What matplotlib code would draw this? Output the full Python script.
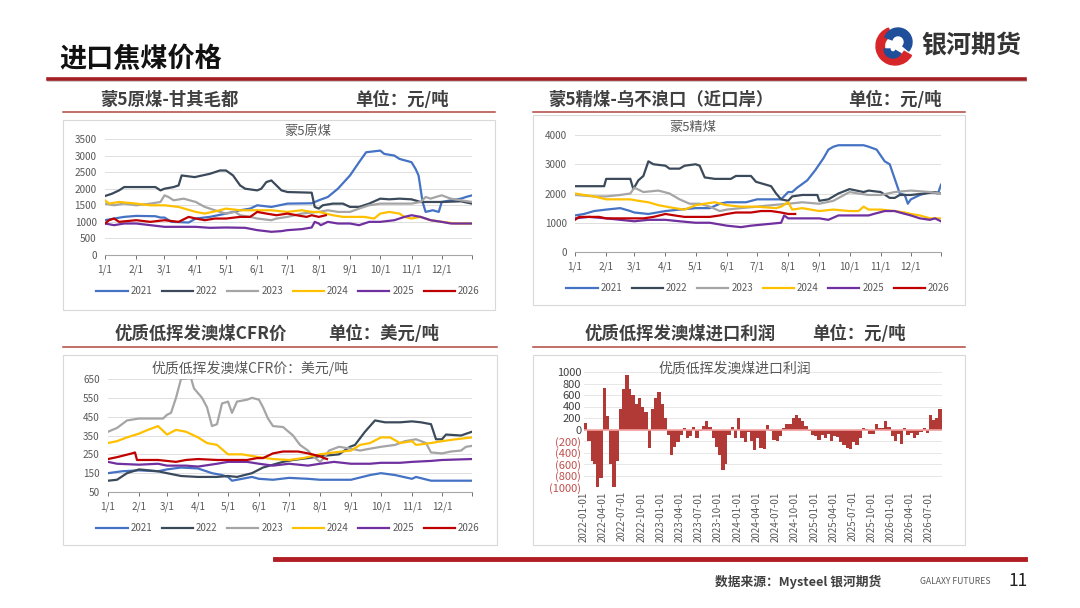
import matplotlib

matplotlib.use("Agg")

import matplotlib.dates as mdates
import matplotlib.pyplot as plt
import numpy as np
import pandas as pd
from matplotlib.lines import Line2D
from matplotlib.patches import Rectangle, Wedge

plt.rcParams["font.family"] = ["Noto Sans CJK SC", "DejaVu Sans"]

W, H = 1080, 608

YEARS = ["2021", "2022", "2023", "2024", "2025", "2026"]
YEAR_COLORS = ["#4472C4", "#3B4A5A", "#A5A5A5", "#FFC000", "#7030A0", "#C00000"]
MONTH_LABELS = ["1/1", "2/1", "3/1", "4/1", "5/1", "6/1", "7/1", "8/1", "9/1", "10/1", "11/1", "12/1"]

# 蒙5原煤-甘其毛都 (元/吨)
raw_2021 = [("1/1", 1050), ("1/10", 1100), ("1/20", 1150), ("2/1", 1180), ("2/20", 1170), ("2/25", 1130),
            ("3/1", 1130), ("3/8", 1000), ("3/25", 980), ("4/1", 1100), ("4/15", 1150), ("5/1", 1250),
            ("5/15", 1350), ("5/25", 1400), ("6/1", 1500), ("6/15", 1450), ("7/1", 1550), ("7/25", 1560),
            ("8/1", 1650), ("8/10", 1750), ("8/20", 2000), ("9/1", 2400), ("9/10", 2800), ("9/17", 3100),
            ("10/1", 3150), ("10/5", 3050), ("10/15", 3000), ("10/20", 2900), ("11/1", 2800), ("11/5", 2600),
            ("11/8", 2400), ("11/12", 1600), ("11/15", 1300), ("11/22", 1350), ("11/28", 1300), ("12/1", 1600),
            ("12/10", 1650), ("12/20", 1700), ("12/25", 1750), ("12/31", 1800)]
raw_2022 = [("1/1", 1780), ("1/8", 1850), ("1/15", 1950), ("1/20", 2050), ("2/20", 2050), ("2/25", 1950),
            ("3/1", 2000), ("3/10", 2050), ("3/15", 2100), ("3/18", 2400), ("3/31", 2350), ("4/15", 2450),
            ("4/25", 2550), ("5/1", 2550), ("5/8", 2400), ("5/15", 2100), ("5/20", 2000), ("6/1", 1950),
            ("6/5", 2000), ("6/10", 2200), ("6/15", 2250), ("6/20", 2100), ("6/25", 1950), ("7/1", 1900),
            ("7/25", 1880), ("7/28", 1450), ("8/1", 1400), ("8/5", 1500), ("8/15", 1550), ("8/25", 1550),
            ("9/1", 1450), ("9/10", 1450), ("9/20", 1550), ("10/1", 1700), ("10/10", 1680), ("10/20", 1700),
            ("11/1", 1680), ("11/10", 1600), ("12/1", 1600), ("12/20", 1620), ("12/31", 1550)]
raw_2023 = [("1/1", 1550), ("1/10", 1500), ("1/20", 1550), ("2/1", 1500), ("2/15", 1550), ("2/25", 1600),
            ("3/1", 1800), ("3/5", 1750), ("3/10", 1650), ("3/20", 1700), ("4/1", 1600), ("4/10", 1450),
            ("4/15", 1400), ("4/25", 1300), ("5/1", 1250), ("5/10", 1300), ("5/15", 1200), ("5/25", 1150),
            ("6/1", 1100), ("6/15", 1050), ("6/20", 1100), ("7/1", 1150), ("7/15", 1250), ("8/1", 1300),
            ("8/10", 1350), ("8/20", 1300), ("9/1", 1300), ("9/10", 1400), ("9/20", 1500), ("10/1", 1550),
            ("10/15", 1550), ("11/1", 1550), ("11/10", 1600), ("11/15", 1750), ("11/20", 1700), ("11/25", 1750),
            ("12/1", 1800), ("12/10", 1700), ("12/20", 1650), ("12/31", 1600)]
raw_2024 = [("1/1", 1650), ("1/5", 1550), ("1/15", 1600), ("2/1", 1550), ("2/15", 1500), ("3/1", 1500),
            ("3/15", 1450), ("4/1", 1300), ("4/10", 1250), ("4/25", 1350), ("5/1", 1400), ("5/15", 1350),
            ("6/1", 1350), ("6/15", 1350), ("7/1", 1300), ("7/15", 1350), ("7/25", 1300), ("8/1", 1300),
            ("8/15", 1200), ("8/25", 1150), ("9/15", 1150), ("9/25", 1100), ("10/1", 1250), ("10/10", 1300),
            ("10/20", 1250), ("10/25", 1150), ("11/1", 1100), ("11/10", 1150), ("11/20", 1050), ("12/1", 1000),
            ("12/15", 950), ("12/31", 950)]
raw_2025 = [("1/1", 950), ("1/10", 900), ("1/20", 950), ("2/1", 950), ("2/15", 900), ("3/1", 850),
            ("3/15", 850), ("4/1", 850), ("4/15", 820), ("5/1", 830), ("5/20", 820), ("6/1", 750),
            ("6/15", 700), ("6/25", 720), ("7/1", 750), ("7/15", 780), ("7/25", 830), ("7/28", 1000),
            ("8/1", 950), ("8/3", 900), ("8/10", 1000), ("8/20", 950), ("9/1", 950), ("9/10", 900),
            ("9/20", 1000), ("10/1", 1000), ("10/15", 1050), ("10/25", 1150), ("11/1", 1200), ("11/10", 1150),
            ("11/20", 1050), ("12/1", 1000), ("12/10", 950), ("12/31", 950)]
raw_2026 = [("1/1", 950), ("1/5", 1050), ("1/10", 1100), ("1/15", 1000), ("2/1", 1050), ("2/15", 1000),
            ("3/1", 1050), ("3/15", 1000), ("3/25", 1150), ("4/1", 1100), ("4/10", 1050), ("4/20", 1100),
            ("5/1", 1100), ("5/15", 1150), ("5/25", 1150), ("6/1", 1300), ("6/10", 1250), ("6/20", 1200),
            ("7/1", 1250), ("7/10", 1200), ("7/20", 1150), ("7/25", 1200), ("8/1", 1150), ("8/8", 1200)]

# 蒙5精煤-乌不浪口 (元/吨)
wash_2021 = [("1/1", 1250), ("1/10", 1300), ("1/20", 1400), ("2/1", 1450), ("2/15", 1500), ("2/25", 1400),
             ("3/1", 1350), ("3/15", 1300), ("4/1", 1400), ("4/15", 1450), ("5/1", 1500), ("5/15", 1500),
             ("5/25", 1650), ("6/1", 1700), ("6/20", 1700), ("7/1", 1800), ("7/25", 1800), ("8/1", 2050),
             ("8/5", 2050), ("8/10", 2200), ("8/20", 2450), ("8/28", 2800), ("9/5", 3200), ("9/10", 3500),
             ("9/15", 3600), ("9/20", 3650), ("10/15", 3650), ("10/20", 3600), ("10/28", 3500), ("11/5", 3100),
             ("11/10", 3000), ("11/15", 2500), ("11/20", 2000), ("11/25", 1950), ("11/28", 1650), ("12/1", 1800),
             ("12/10", 1950), ("12/20", 2050), ("12/28", 2000), ("12/31", 2300)]
wash_2022 = [("1/1", 2250), ("1/30", 2250), ("2/1", 2500), ("2/25", 2500), ("2/28", 2150), ("3/5", 2450),
             ("3/10", 2600), ("3/15", 3100), ("3/20", 3000), ("4/1", 2950), ("4/5", 2850), ("4/15", 2850),
             ("4/20", 2950), ("5/1", 3000), ("5/5", 2950), ("5/10", 2550), ("5/20", 2500), ("6/5", 2500),
             ("6/10", 2600), ("6/25", 2600), ("6/30", 2400), ("7/5", 2350), ("7/15", 2250), ("7/20", 2000),
             ("7/25", 1800), ("8/1", 1750), ("8/5", 1900), ("8/15", 1950), ("8/30", 1950), ("9/1", 1750),
             ("9/10", 1800), ("9/20", 2000), ("10/1", 2150), ("10/15", 2050), ("10/20", 2100), ("11/1", 2050),
             ("11/10", 1850), ("11/15", 1850), ("11/20", 1950), ("12/1", 1950), ("12/15", 2000), ("12/25", 2050),
             ("12/31", 2000)]
wash_2023 = [("1/1", 1950), ("1/20", 1900), ("2/1", 1900), ("2/15", 1950), ("2/25", 2000), ("3/1", 2200),
             ("3/10", 2050), ("3/25", 2100), ("4/5", 2000), ("4/15", 1800), ("4/25", 1650), ("5/5", 1650),
             ("5/15", 1550), ("5/25", 1400), ("6/1", 1450), ("6/15", 1500), ("7/1", 1550), ("7/15", 1600),
             ("8/1", 1650), ("8/15", 1700), ("9/1", 1650), ("9/15", 1750), ("10/1", 2050), ("10/10", 2000),
             ("10/20", 1950), ("11/1", 1950), ("11/15", 2050), ("12/1", 2100), ("12/20", 2050), ("12/31", 2000)]
wash_2024 = [("1/1", 2000), ("1/10", 1950), ("1/20", 1900), ("2/1", 1800), ("2/25", 1800), ("3/5", 1750),
             ("3/15", 1700), ("3/25", 1600), ("4/10", 1500), ("4/20", 1450), ("5/1", 1600), ("5/10", 1650),
             ("5/20", 1700), ("6/1", 1600), ("6/15", 1550), ("7/1", 1550), ("7/20", 1500), ("7/25", 1550),
             ("8/1", 1700), ("8/5", 1450), ("8/15", 1500), ("9/1", 1400), ("9/15", 1450), ("10/1", 1400),
             ("10/10", 1400), ("10/15", 1550), ("10/20", 1450), ("11/1", 1450), ("11/15", 1400), ("11/25", 1350),
             ("12/1", 1300), ("12/10", 1250), ("12/20", 1150), ("12/31", 1150)]
wash_2025 = [("1/1", 1150), ("1/15", 1200), ("2/1", 1150), ("2/15", 1100), ("3/1", 1050), ("3/15", 1100),
             ("4/1", 1100), ("4/15", 1050), ("5/1", 1000), ("5/15", 1000), ("6/1", 900), ("6/15", 850),
             ("6/25", 900), ("7/10", 950), ("7/25", 1000), ("7/28", 1250), ("8/1", 1150), ("8/15", 1150),
             ("9/1", 1150), ("9/10", 1100), ("9/20", 1250), ("10/5", 1250), ("10/20", 1250), ("10/25", 1300),
             ("11/5", 1400), ("11/15", 1400), ("11/20", 1350), ("12/1", 1250), ("12/10", 1150), ("12/20", 1100),
             ("12/25", 1150), ("12/31", 1050)]
wash_2026 = [("1/1", 1100), ("1/5", 1200), ("1/25", 1200), ("2/1", 1150), ("2/25", 1150), ("3/10", 1150),
             ("3/20", 1200), ("4/1", 1300), ("4/10", 1250), ("4/20", 1200), ("5/15", 1200), ("5/25", 1250),
             ("6/1", 1300), ("6/10", 1350), ("6/25", 1350), ("7/5", 1400), ("7/15", 1400), ("7/25", 1350),
             ("8/1", 1300), ("8/8", 1300)]

# 优质低挥发澳煤CFR价 (美元/吨)
cfr_2021 = [("1/1", 150), ("1/15", 160), ("2/1", 165), ("2/20", 160), ("3/1", 170), ("3/15", 180),
            ("4/1", 175), ("4/15", 150), ("4/25", 140), ("5/1", 130), ("5/5", 110), ("5/15", 120),
            ("5/25", 130), ("6/1", 120), ("6/15", 115), ("7/1", 125), ("7/20", 120), ("8/1", 115),
            ("9/1", 115), ("9/20", 140), ("10/1", 150), ("10/15", 140), ("11/1", 120), ("11/5", 130),
            ("11/20", 110), ("12/31", 110)]
cfr_2022 = [("1/1", 110), ("1/10", 115), ("1/20", 150), ("2/1", 170), ("2/20", 160), ("3/1", 150),
            ("3/15", 135), ("4/1", 130), ("4/20", 130), ("5/1", 135), ("5/10", 130), ("5/25", 150),
            ("6/5", 180), ("6/25", 210), ("7/5", 220), ("7/20", 230), ("8/1", 240), ("8/20", 250),
            ("8/31", 290), ("9/5", 300), ("9/15", 370), ("9/25", 430), ("10/5", 420), ("10/20", 420),
            ("11/1", 425), ("11/10", 420), ("11/20", 410), ("11/25", 330), ("12/1", 330), ("12/5", 355),
            ("12/20", 350), ("12/31", 370)]
cfr_2023 = [("1/1", 370), ("1/10", 390), ("1/20", 430), ("2/1", 440), ("2/25", 440), ("3/1", 460),
            ("3/5", 470), ("3/10", 550), ("3/15", 650), ("3/25", 655), ("3/28", 600), ("4/5", 550),
            ("4/10", 500), ("4/15", 400), ("4/20", 410), ("4/25", 520), ("5/1", 530), ("5/5", 470),
            ("5/10", 530), ("5/20", 540), ("5/25", 550), ("6/1", 540), ("6/5", 500), ("6/10", 440),
            ("6/15", 400), ("6/25", 395), ("7/5", 350), ("7/12", 300), ("7/20", 270), ("7/25", 240),
            ("8/1", 210), ("8/5", 230), ("8/10", 270), ("8/20", 290), ("9/1", 280), ("9/10", 270),
            ("9/20", 280), ("10/1", 290), ("10/15", 300), ("10/25", 320), ("11/5", 330), ("11/15", 310),
            ("11/20", 260), ("12/1", 255), ("12/10", 265), ("12/20", 270), ("12/25", 290), ("12/31", 295)]
cfr_2024 = [("1/1", 310), ("1/10", 320), ("1/20", 340), ("2/1", 360), ("2/10", 380), ("2/20", 400),
            ("3/1", 355), ("3/10", 380), ("3/20", 370), ("4/1", 340), ("4/10", 310), ("4/20", 300),
            ("5/1", 250), ("5/15", 250), ("6/1", 235), ("6/15", 225), ("7/1", 220), ("7/15", 230),
            ("8/1", 250), ("8/15", 260), ("9/1", 270), ("9/10", 300), ("9/20", 310), ("10/1", 340),
            ("10/10", 340), ("10/20", 310), ("11/1", 320), ("11/5", 300), ("11/20", 310), ("12/1", 320),
            ("12/15", 330), ("12/31", 340)]
cfr_2025 = [("1/1", 210), ("1/10", 200), ("2/1", 195), ("2/20", 200), ("3/1", 190), ("3/20", 190),
            ("4/1", 185), ("4/20", 200), ("5/1", 210), ("5/20", 210), ("6/1", 200), ("6/15", 190),
            ("7/1", 200), ("7/20", 190), ("8/1", 200), ("8/15", 210), ("9/1", 200), ("9/20", 200),
            ("10/1", 205), ("10/20", 205), ("11/1", 210), ("11/20", 215), ("12/1", 220), ("12/31", 225)]
cfr_2026 = [("1/1", 225), ("1/10", 235), ("1/25", 255), ("1/28", 260), ("1/30", 220), ("2/20", 220),
            ("3/1", 215), ("3/10", 210), ("3/20", 220), ("4/1", 225), ("4/20", 220), ("5/1", 220),
            ("5/20", 220), ("5/30", 230), ("6/5", 230), ("6/15", 255), ("6/25", 265), ("7/10", 265),
            ("7/20", 255), ("7/28", 245), ("8/1", 240), ("8/5", 230), ("8/8", 225)]

# 优质低挥发澳煤进口利润 (元/吨), half-monthly from 2022-01-01
profit = [120, -200, -550, -600, -1000, -850, 720, 240, -600, -1000, -550, 350, 700, 950, 700, 600,
          450, 550, 400, 300, -320, 350, 550, 650, 450, 200, -100, -450, -300, -220, -100, 30,
          -150, -120, 40, -150, -30, 60, 140, 50, -150, -300, -450, -700, -600, -100, 50, -150,
          200, -150, -220, -50, -200, -350, -150, -330, -340, 80, -30, -180, -200, -120, 30, 100,
          100, 200, 250, 200, 150, 60, -20, -100, -120, -180, -100, -150, -70, -200, -120, -130,
          -220, -270, -320, -340, -220, -270, -150, 30, 10, -70, -80, 90, 20, 30, 150, 50,
          -120, -200, -80, -260, 20, -100, -60, -140, -90, -40, 20, -60, 250, 170, 200, 350]


def px_rect(x0, y0, x1, y1):
    return [x0 / W, 1 - y1 / H, (x1 - x0) / W, (y1 - y0) / H]


def fig_text(fig, x, y, s, **kw):
    fig.text(x / W, 1 - y / H, s, **kw)


def fig_hline(fig, x0, x1, y, color, lw):
    fig.add_artist(Line2D([x0 / W, x1 / W], [1 - y / H, 1 - y / H], transform=fig.transFigure, color=color, lw=lw))


def fig_box(fig, x0, y0, x1, y1):
    fig.add_artist(Rectangle((x0 / W, 1 - y1 / H), (x1 - x0) / W, (y1 - y0) / H, transform=fig.transFigure,
                             facecolor="white", edgecolor="#D9D9D9", lw=0.8, zorder=0))


def day_of_year(md):
    return pd.Timestamp(f"2021/{md}").dayofyear - 1


def seasonal_chart(fig, rect, series, ylim, yticks, title, title_xy, title_size, legend_xy):
    ax = fig.add_axes(px_rect(*rect))
    for name, pts, color in zip(YEARS, series, YEAR_COLORS):
        ax.plot([day_of_year(d) for d, _ in pts], [v for _, v in pts], color=color, lw=1.6, label=name)
    ax.set_xlim(0, 364)
    ax.set_ylim(*ylim)
    ax.set_yticks(yticks)
    month_days = [day_of_year(m) for m in MONTH_LABELS] + [364]
    ax.set_xticks(month_days)
    ax.set_xticklabels(MONTH_LABELS + [""])
    ax.tick_params(axis="x", labelsize=7.2, colors="#595959", length=3, width=0.6, pad=4)
    ax.tick_params(axis="y", labelsize=7.2, colors="#595959", length=0, pad=6)
    for side in ("top", "right", "left"):
        ax.spines[side].set_visible(False)
    ax.spines["bottom"].set_color("#A6A6A6")
    ax.yaxis.grid(True, color="#D9D9D9", lw=0.6)
    ax.set_axisbelow(True)
    fig_text(fig, title_xy[0], title_xy[1], title, ha="center", va="center", fontsize=title_size, color="#595959")
    ax.legend(loc="center", bbox_to_anchor=(legend_xy[0] / W, 1 - legend_xy[1] / H), bbox_transform=fig.transFigure,
              ncol=6, frameon=False, fontsize=7, labelcolor="#595959", handlelength=3.2, handletextpad=0.3,
              columnspacing=1.0)
    return ax


fig = plt.figure(figsize=(W / 100, H / 100), dpi=100)

# header
fig_text(fig, 59, 59, "进口焦煤价格", ha="left", va="center", fontsize=19.5, fontweight="bold", color="#111111")
fig_hline(fig, 48, 1025, 80, "#C9C9C9", 2.0)
fig_hline(fig, 48, 1025, 78.5, "#A31F24", 2.6)
logo = fig.add_axes(px_rect(875, 26, 915, 66))
logo.set_xlim(-1, 1)
logo.set_ylim(-1, 1)
logo.set_aspect("equal")
logo.axis("off")
logo.add_patch(Wedge((0, 0), 0.95, 110, 330, width=0.42, color="#D7262A"))
logo.add_patch(Wedge((0.15, 0.2), 0.7, -40, 160, width=0.38, color="#1F4E9A"))
logo.add_patch(Wedge((-0.1, -0.15), 0.45, 180, 330, width=0.3, color="#1F4E9A"))
fig_text(fig, 921, 46, "银河期货", ha="left", va="center", fontsize=18, fontweight="bold", color="#333333")

# section headers
head = dict(ha="left", va="center", fontsize=12.5, fontweight="bold", color="#404040")
fig_text(fig, 100, 100, "蒙5原煤-甘其毛都", **head)
fig_text(fig, 355, 100, "单位：元/吨", **head)
fig_text(fig, 548, 100, "蒙5精煤-乌不浪口（近口岸）", **head)
fig_text(fig, 848, 100, "单位：元/吨", **head)
fig_text(fig, 115, 334, "优质低挥发澳煤CFR价", **head)
fig_text(fig, 328, 334, "单位：美元/吨", **head)
fig_text(fig, 585, 334, "优质低挥发澳煤进口利润", **head)
fig_text(fig, 812, 334, "单位：元/吨", **head)
for x0, x1, y in [(63, 495, 112), (533, 965, 112), (63, 497, 347), (533, 965, 347)]:
    fig_hline(fig, x0, x1, y, "#B0473F", 1.1)

# chart frames
fig_box(fig, 63, 120, 495, 310)
fig_box(fig, 533, 115, 965, 305)
fig_box(fig, 63, 355, 497, 545)
fig_box(fig, 533, 355, 965, 545)

seasonal_chart(fig, (105, 139, 472, 255), [raw_2021, raw_2022, raw_2023, raw_2024, raw_2025, raw_2026],
               (0, 3500), range(0, 3501, 500), "蒙5原煤", (308, 131), 9.5, (288, 291))
seasonal_chart(fig, (575, 135, 941, 252), [wash_2021, wash_2022, wash_2023, wash_2024, wash_2025, wash_2026],
               (0, 4000), range(0, 4001, 1000), "蒙5精煤", (693, 127), 9.5, (758, 288))
seasonal_chart(fig, (108, 379, 472, 492), [cfr_2021, cfr_2022, cfr_2023, cfr_2024, cfr_2025, cfr_2026],
               (50, 650), range(50, 651, 100), "优质低挥发澳煤CFR价：美元/吨", (250, 368), 10, (288, 528))

# profit chart: half-monthly bars drawn as a continuous stepped area
ax = fig.add_axes(px_rect(584, 372, 942, 487))
dates = pd.date_range("2022-01-01", periods=len(profit), freq="SMS")
edges = dates.append(pd.DatetimeIndex([dates[-1] + pd.offsets.SemiMonthBegin()]))
ax.fill_between(edges, np.append(profit, profit[-1]), 0, step="post", color="#B23A36", lw=0)
ax.axhline(0, color="#F2A2A0", lw=1.2)
ax.set_xlim(pd.Timestamp("2022-01-01"), edges[-1])
ax.set_ylim(-1000, 1000)
ax.set_yticks(range(-1000, 1001, 200))
ax.set_yticklabels([f"({-v})" if v < 0 else f"{v}" for v in range(-1000, 1001, 200)])
for lab, v in zip(ax.get_yticklabels(), range(-1000, 1001, 200)):
    lab.set_color("#C0504D" if v < 0 else "#404040")
ax.set_xticks(pd.date_range("2022-01-01", "2026-07-01", freq="QS"))
ax.xaxis.set_major_formatter(mdates.DateFormatter("%Y-%m-%d"))
ax.tick_params(axis="x", labelsize=7, colors="#595959", length=0, rotation=90, pad=3)
ax.tick_params(axis="y", labelsize=8, length=0, pad=2)
for side in ax.spines.values():
    side.set_visible(False)
ax.yaxis.grid(True, color="#E3E3E3", lw=0.6)
ax.set_axisbelow(True)
fig_text(fig, 735, 369, "优质低挥发澳煤进口利润", ha="center", va="center", fontsize=10, color="#595959")

# footer
fig_hline(fig, 275, 1025, 559, "#B01E23", 3.5)
fig_text(fig, 715, 582, "数据来源：Mysteel 银河期货", ha="left", va="center", fontsize=9.2, fontweight="bold",
         color="#404040")
fig_text(fig, 920, 582, "GALAXY FUTURES", ha="left", va="center", fontsize=6.2, color="#595959")
fig_text(fig, 1008, 581, "11", ha="left", va="center", fontsize=12.5, color="#222222")

fig.savefig("out.png", dpi=100)
plt.close(fig)
